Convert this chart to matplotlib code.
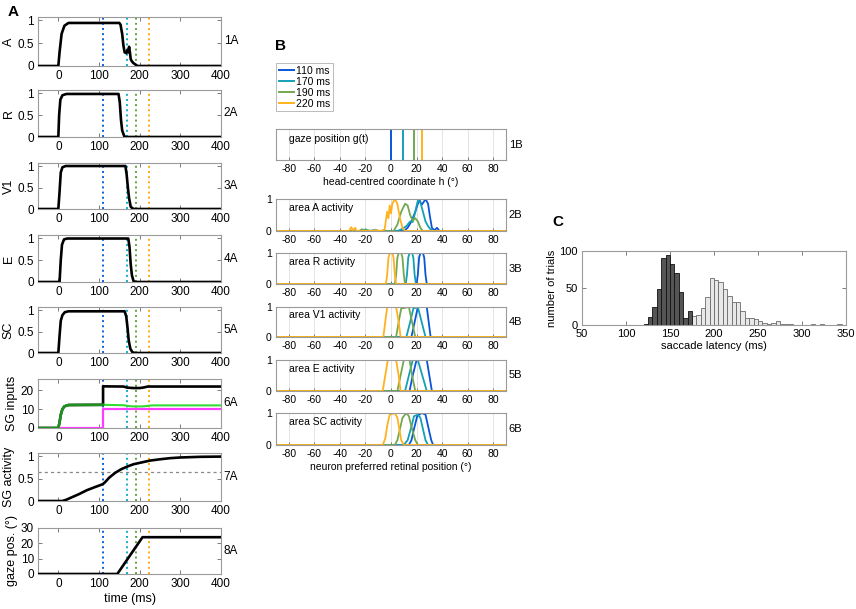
import matplotlib
matplotlib.use('Agg')
import matplotlib.pyplot as plt
from matplotlib.lines import Line2D

plt.rcParams['font.family'] = ['Liberation Sans', 'DejaVu Sans']
plt.rcParams['axes.unicode_minus'] = False

W, H = 856, 609
fig = plt.figure(figsize=(W / 100, H / 100), dpi=100)

def ax_px(l, t, r, b):
    return fig.add_axes([l / W, 1 - b / H, (r - l) / W, (b - t) / H])

SPINE = '#9a9a9a'
# ---------------- data ----------------
snap_labels = ['110 ms', '170 ms', '190 ms', '220 ms']
vline_times = [110, 170, 191, 222]
colA_lines = ['#0a5fe0', '#12aec4', '#5fa53a', '#ffaa10']
colB = ['#0a55d8', '#14a0b4', '#72a850', '#ffb21e']

# Panel A traces
t1A = [-50, 0, 3, 8, 15, 25, 150, 153, 157, 160, 163, 167, 170, 172, 174, 176, 178, 181, 185, 190, 195, 400]
y1A = [0, 0, 0.3, 0.7, 0.88, 0.94, 0.94, 0.9, 0.7, 0.45, 0.3, 0.28, 0.35, 0.3, 0.42, 0.3, 0.15, 0.1, 0.06, 0.03, 0, 0]
t2A = [-50, 0, 2, 5, 10, 20, 148, 151, 154, 157, 162, 166, 400]
y2A = [0, 0, 0.5, 0.85, 0.95, 0.98, 0.98, 0.8, 0.4, 0.15, 0.02, 0, 0]
t3A = [-50, 0, 3, 6, 10, 18, 165, 168, 171, 174, 178, 185, 400]
y3A = [0, 0, 0.4, 0.85, 0.97, 1.0, 1.0, 0.8, 0.5, 0.25, 0.05, 0, 0]
t4A = [-50, 3, 6, 9, 14, 22, 172, 175, 178, 181, 185, 190, 400]
y4A = [0, 0, 0.5, 0.85, 0.97, 0.99, 0.99, 0.8, 0.4, 0.15, 0.02, 0, 0]
t5A = [-50, 0, 3, 6, 10, 16, 25, 163, 167, 170, 173, 177, 182, 188, 400]
y5A = [0, 0, 0.4, 0.75, 0.88, 0.95, 0.97, 0.97, 0.85, 0.6, 0.3, 0.1, 0.02, 0, 0]
# 6A SG inputs
t6_black = [-50, 0, 3, 6, 10, 15, 25, 110, 110, 160, 170, 185, 200, 210, 220, 400]
y6_black = [0, 0, 3, 7, 10, 11.5, 12.2, 12.3, 22.1, 22.0, 21.4, 21.2, 21.2, 21.5, 22.0, 22.0]
t6_green = [-50, 0, 3, 6, 10, 15, 25, 110, 160, 175, 190, 210, 230, 400]
y6_green = [0, 0, 3, 7, 10, 11.5, 12.2, 12.3, 12.1, 11.6, 11.4, 11.5, 12.0, 12.0]
t6_mag = [-50, 110, 110, 400]
y6_mag = [0, 0, 10, 10]
# 7A SG activity
t7A = [-50, 10, 20, 30, 50, 70, 90, 105, 110, 115, 125, 140, 155, 170, 185, 200, 225, 250, 275, 300, 350, 400]
y7A = [0, 0, 0.03, 0.07, 0.15, 0.24, 0.31, 0.36, 0.38, 0.42, 0.52, 0.63, 0.71, 0.77, 0.82, 0.85, 0.9, 0.93, 0.955, 0.97, 0.985, 0.99]
threshold = 0.65
# 8A gaze position
t8A = [-50, 145, 207, 400]
y8A = [0, 0, 24, 24]

# Panel B
gaze_pos = [0, 9, 18, 24]
b2_x = [
    [-90, 10, 13, 16, 19, 21, 22.5, 24, 25.5, 27, 29, 30.5, 32, 34, 36, 37, 38, 90],
    [-90, -22, -20, -17, -12, -10, 5, 8, 12, 15, 17, 19, 21, 23, 25, 27, 29, 31, 33, 90],
    [-90, -25, -23, -20, -15, 2, 5, 8, 11, 13, 15, 17, 19, 21, 23, 25, 90],
    [-90, -33, -31, -30, -28, -27, -15, -12, -8, -5, -3, -2, -1, 0, 1, 3, 5, 7, 9, 11, 90],
]
b2_y = [
    [0, 0, 0.1, 0.3, 0.6, 0.85, 0.95, 0.82, 0.9, 1.0, 0.85, 0.45, 0.1, 0.02, 0.1, 0.05, 0, 0],
    [0, 0, 0.05, 0, 0.04, 0, 0, 0.05, 0.15, 0.3, 0.28, 0.6, 0.95, 0.9, 0.6, 0.3, 0.15, 0.05, 0, 0],
    [0, 0, 0.05, 0.03, 0, 0, 0.2, 0.6, 0.85, 0.8, 0.5, 0.32, 0.4, 0.3, 0.1, 0, 0],
    [0, 0, 0.12, 0.02, 0.1, 0, 0, 0.03, 0, 0.05, 0.6, 0.4, 0.8, 0.55, 0.85, 1.0, 0.85, 0.4, 0.1, 0, 0],
]
b3_x = [
    [-90, 20, 21, 22, 23, 25, 26, 27, 28, 90],
    [-90, 11.5, 12.5, 13.5, 14.5, 16.5, 17.5, 18.5, 19.5, 90],
    [-90, 3, 4, 5, 6, 8, 9, 10, 11, 90],
    [-90, -4, -3, -2, -1, 1, 2, 3, 4, 90],
]
b3_y = [[0, 0, 0.3, 0.85, 1, 1, 0.85, 0.3, 0, 0]] * 4
b4_x = [
    [-90, 16, 18.5, 21, 28, 29.5, 31, 90],
    [-90, 12, 15, 17.5, 21, 24, 27, 90],
    [-90, 4, 6, 8, 14, 16.5, 19, 90],
    [-90, -6, -4.5, -3, 4, 6, 7.5, 90],
]
b4_y = [
    [0, 0, 0.5, 1, 1, 0.5, 0, 0],
    [0, 0, 0.5, 0.95, 1, 0.5, 0, 0],
    [0, 0, 0.5, 0.95, 1, 0.5, 0, 0],
    [0, 0, 0.5, 1, 1, 0.5, 0, 0],
]
b5_x = [
    [-90, 14.5, 17, 20, 28, 30, 32, 90],
    [-90, 11, 14, 17, 21, 24.5, 28, 90],
    [-90, 5, 7.5, 10, 14.5, 16.5, 19, 90],
    [-90, -6.5, -4.5, -2.5, 4, 6, 7.5, 90],
]
b5_y = [[0, 0, 0.5, 1, 1, 0.5, 0, 0]] * 4
b6_x = [
    [-90, 14, 16, 18, 20.5, 24, 27, 29.5, 31.5, 33, 90],
    [-90, 10, 13, 15.5, 18, 21, 23, 25, 27, 29, 90],
    [-90, 3, 5, 7, 9, 12, 14, 16.5, 19, 21, 90],
    [-90, -6.5, -4.5, -3, -1, 3, 5, 6.5, 8, 10, 90],
]
b6_y = [
    [0, 0, 0.15, 0.5, 0.9, 1, 0.95, 0.5, 0.15, 0, 0],
    [0, 0, 0.15, 0.5, 0.9, 0.95, 0.85, 0.5, 0.15, 0, 0],
    [0, 0, 0.15, 0.5, 0.85, 1, 0.9, 0.5, 0.15, 0, 0],
    [0, 0, 0.2, 0.6, 0.95, 1, 0.85, 0.5, 0.15, 0, 0],
]

# Panel C histograms
dark_edges = [120, 125, 130, 135, 140, 145, 150, 155, 160, 165, 170]
dark_counts = [2, 11, 24, 48, 91, 94, 82, 70, 44, 10, 19]
light_edges = [175, 180, 185, 190, 195, 200, 205, 210, 215, 220, 225, 230, 235, 240, 245,
               250, 255, 260, 265, 270, 275, 280, 285, 290, 295, 310, 320, 340]
light_counts = [12, 13, 23, 38, 64, 61, 58, 49, 39, 31, 31, 19, 10, 9.5, 8,
                6, 3, 2, 3, 5, 1, 1, 1, 0.5, 0.5, 2, 1, 0.7]

# ---------------- styling helpers ----------------
def style(ax, size=8):
    for s in ax.spines.values():
        s.set_color(SPINE)
        s.set_linewidth(0.8)
    ax.tick_params(direction='in', length=3, width=0.6, color='#666666',
                   labelsize=size, top=True, right=True, pad=3)

# ---------------- Panel A ----------------
rowsA = [(17, 66), (90, 137), (163, 209), (235, 282), (307, 353), (379, 428), (453, 501), (528, 574)]
ylabA = ['A', 'R', 'V1', 'E', 'SC', 'SG inputs', 'SG activity', 'gaze pos. (°)']
tracesA = [(t1A, y1A), (t2A, y2A), (t3A, y3A), (t4A, y4A), (t5A, y5A)]
for i, (top, bot) in enumerate(rowsA):
    ax = ax_px(38, top, 221, bot)
    style(ax, 8.5)
    ax.set_xlim(-50, 400)
    ax.set_xticks([0, 100, 200, 300, 400])
    for vt, c in zip(vline_times, colA_lines):
        ax.axvline(vt, color=c, ls=':', lw=1.4, zorder=1)
    if i < 5:
        ax.plot(*tracesA[i], color='black', lw=1.9, zorder=3)
        ax.set_ylim(0, 1.07)
        ax.set_yticks([0, 0.5, 1])
        ax.set_yticklabels(['0', '0.5', '1'])
    elif i == 5:
        ax.plot(t6_black, y6_black, color='black', lw=1.9, zorder=3)
        ax.plot(t6_mag, y6_mag, color='#ff3cff', lw=1.6, zorder=4)
        ax.plot(t6_green, y6_green, color='#33dd33', lw=1.5, zorder=5)
        ax.plot(t6_green[:8], y6_green[:8], color='#1f8f1f', lw=1.8, zorder=6)
        ax.set_ylim(0, 26)
        ax.set_yticks([0, 10, 20])
    elif i == 6:
        ax.axhline(threshold, color='#888888', ls=(0, (2.5, 2.5)), lw=0.9, zorder=2)
        ax.plot(t7A, y7A, color='black', lw=1.9, zorder=3)
        ax.set_ylim(0, 1.07)
        ax.set_yticks([0, 0.5, 1])
        ax.set_yticklabels(['0', '0.5', '1'])
    else:
        ax.plot(t8A, y8A, color='black', lw=1.9, zorder=3)
        ax.set_ylim(0, 30)
        ax.set_yticks([0, 10, 20, 30])
        ax.set_xlabel('time (ms)', fontsize=9, labelpad=2)
    ax.set_ylabel(ylabA[i], fontsize=9, labelpad=2)
    ax.text(1.015, 0.5, f'{i + 1}A', transform=ax.transAxes, va='center', ha='left', fontsize=8.5)

fig.text(8 / W, 1 - 12 / H, 'A', fontsize=11, fontweight='bold', va='center', ha='left')

# ---------------- Panel B ----------------
rowsB = [(129, 160), (199, 231), (253, 284), (307, 337), (360, 391), (413, 445)]
txtB = ['gaze position g(t)', 'area A activity', 'area R activity', 'area V1 activity',
        'area E activity', 'area SC activity']
dataB = [None, (b2_x, b2_y), (b3_x, b3_y), (b4_x, b4_y), (b5_x, b5_y), (b6_x, b6_y)]
for i, (top, bot) in enumerate(rowsB):
    ax = ax_px(276, top, 506, bot)
    style(ax, 7.5)
    ax.tick_params(top=False, right=False, length=2.5)
    ax.set_xlim(-90, 90)
    ax.set_xticks(range(-80, 81, 20))
    ax.grid(axis='x', color='#e4e4e4', lw=0.7)
    ax.set_axisbelow(True)
    if i == 0:
        for g, c in zip(gaze_pos, colB):
            ax.axvline(g, color=c, lw=1.4)
        ax.set_yticks([])
        ax.set_xlabel('head-centred coordinate h (°)', fontsize=7.5, labelpad=2)
        ax.text(-80, 0.68, txtB[i], fontsize=7.5, va='center', ha='left')
    else:
        xs, ys = dataB[i]
        for xx, yy, c in zip(xs, ys, colB):
            ax.plot(xx, yy, color=c, lw=1.3)
        ax.set_yticks([0, 1])
        ax.text(-80, 0.72, txtB[i], fontsize=7.5, va='center', ha='left')
        if i == 5:
            ax.set_xlabel('neuron preferred retinal position (°)', fontsize=7.5, labelpad=2)
    ax.set_ylim(0, 1.0)
    ax.text(1.012, 0.5, f'{i + 1}B', transform=ax.transAxes, va='center', ha='left', fontsize=8)

handles = [Line2D([0], [0], color=c, lw=1.4) for c in colB]
leg = fig.legend(handles, snap_labels, loc='upper left', bbox_to_anchor=(276 / W, 1 - 63 / H),
                 bbox_transform=fig.transFigure, fontsize=7.5, frameon=True, fancybox=False,
                 borderaxespad=0, handlelength=1.5, handletextpad=0.2, labelspacing=0.1,
                 borderpad=0.25, edgecolor='#aaaaaa')
leg.get_frame().set_linewidth(0.7)
fig.text(275 / W, 1 - 46 / H, 'B', fontsize=11, fontweight='bold', va='center', ha='left')

# ---------------- Panel C ----------------
axc = ax_px(582, 251, 846, 325)
style(axc, 8)
axc.bar(light_edges, light_counts, width=5, align='edge', color='#e8e8e8', edgecolor='#6a6a6a', lw=0.6, zorder=2)
axc.bar(dark_edges, dark_counts, width=5, align='edge', color='#555555', edgecolor='#111111', lw=0.6, zorder=3)
axc.set_xlim(50, 350)
axc.set_ylim(0, 100)
axc.set_xticks(range(50, 351, 50))
axc.set_yticks([0, 50, 100])
axc.set_xlabel('saccade latency (ms)', fontsize=8, labelpad=1)
axc.set_ylabel('number of trials', fontsize=8, labelpad=2)
fig.text(552 / W, 1 - 222 / H, 'C', fontsize=11, fontweight='bold', va='center', ha='left')

fig.savefig('out.png', dpi=100)
